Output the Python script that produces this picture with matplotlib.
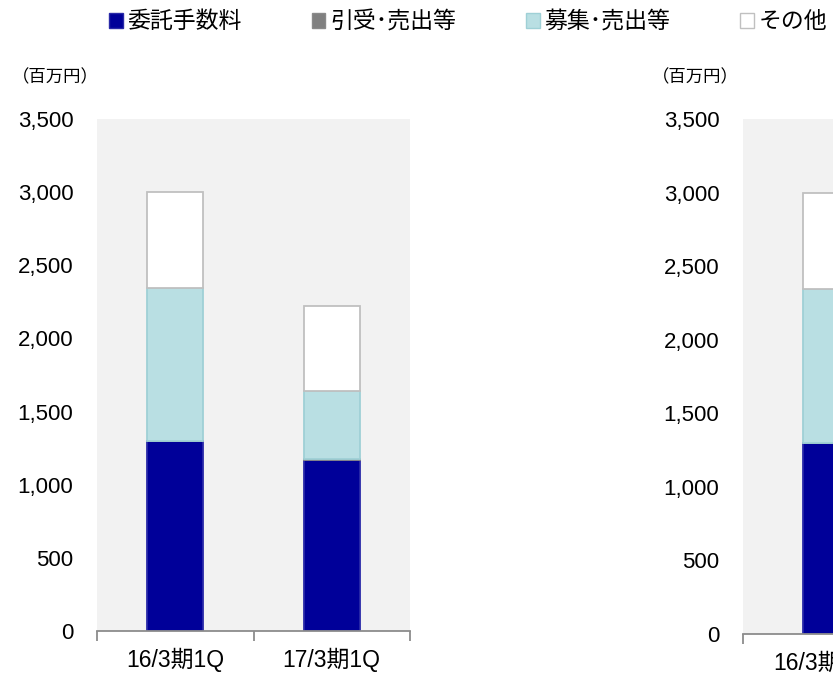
import matplotlib
matplotlib.use("Agg")
import matplotlib.pyplot as plt
from matplotlib.patches import Patch
import numpy as np

plt.rcParams['font.family'] = ['Liberation Sans', 'Noto Sans CJK JP', 'DejaVu Sans']

categories = ['16/3期1Q', '17/3期1Q']
series_names = ['委託手数料', '引受･売出等', '募集･売出等', 'その他']
commission = [1300, 1170]
underwriting = [0, 6]
offering = [1045, 462]
other = [655, 582]
yticks = [0, 500, 1000, 1500, 2000, 2500, 3000, 3500]
unit_label = '（百万円）'

colors = ['#000099', '#808080', '#b9dfe3', '#ffffff']
edges = ['#2a2aa8', '#8a8a8a', '#9fd0d6', '#c0c0c0']
series = [commission, underwriting, offering, other]

W, H = 833, 674
fig = plt.figure(figsize=(W / 100, H / 100), dpi=100)


def px_axes(left, right, top, bottom):
    return fig.add_axes([left / W, 1 - bottom / H, (right - left) / W, (bottom - top) / H])


def draw(ax, bar_width):
    x = np.arange(len(categories))
    bottom = np.zeros(len(categories))
    for vals, c, e in zip(series, colors, edges):
        v = np.array(vals, dtype=float)
        ax.bar(x, v, bar_width, bottom=bottom, color=c, edgecolor=e, linewidth=1.3, zorder=3)
        bottom += v
    ax.set_facecolor('#f2f2f2')
    ax.set_ylim(0, 3500)
    ax.set_xlim(-0.5, len(categories) - 0.5)
    ax.set_yticks(yticks)
    ax.set_yticklabels([f'{t:,}' for t in yticks], fontsize=16)
    ax.tick_params(axis='y', length=0, pad=17)
    ax.set_xticks(x)
    ax.set_xticklabels(categories, fontsize=16.5)
    ax.set_xticks(np.arange(len(categories) + 1) - 0.5, minor=True)
    ax.tick_params(axis='x', which='major', length=0, pad=12)
    ax.tick_params(axis='x', which='minor', length=7, width=1.3, color='#8c8c8c')
    for s in ['top', 'right', 'left']:
        ax.spines[s].set_visible(False)
    ax.spines['bottom'].set_color('#8c8c8c')
    ax.spines['bottom'].set_linewidth(1.3)
    ax.spines['bottom'].set_zorder(4)


ax1 = px_axes(97, 410, 119, 631)
draw(ax1, 0.358)
ax2 = px_axes(743, 743 + 158 * 2, 119, 634)
draw(ax2, 0.24)

fig.text(12 / W, 1 - 77 / H, unit_label, fontsize=12.5, va='center', ha='left')
fig.text(652 / W, 1 - 77 / H, unit_label, fontsize=12.5, va='center', ha='left')

handles = [Patch(facecolor=c, edgecolor=e, linewidth=1.0) for c, e in zip(colors, edges)]
fig.legend(handles, series_names, ncol=4, loc='center', bbox_to_anchor=(468 / W, 1 - 22 / H),
           frameon=False, fontsize=16.5, handlelength=0.6, handleheight=0.6,
           handletextpad=0.2, columnspacing=3.05, borderpad=0)

fig.savefig('out.png', dpi=100)
